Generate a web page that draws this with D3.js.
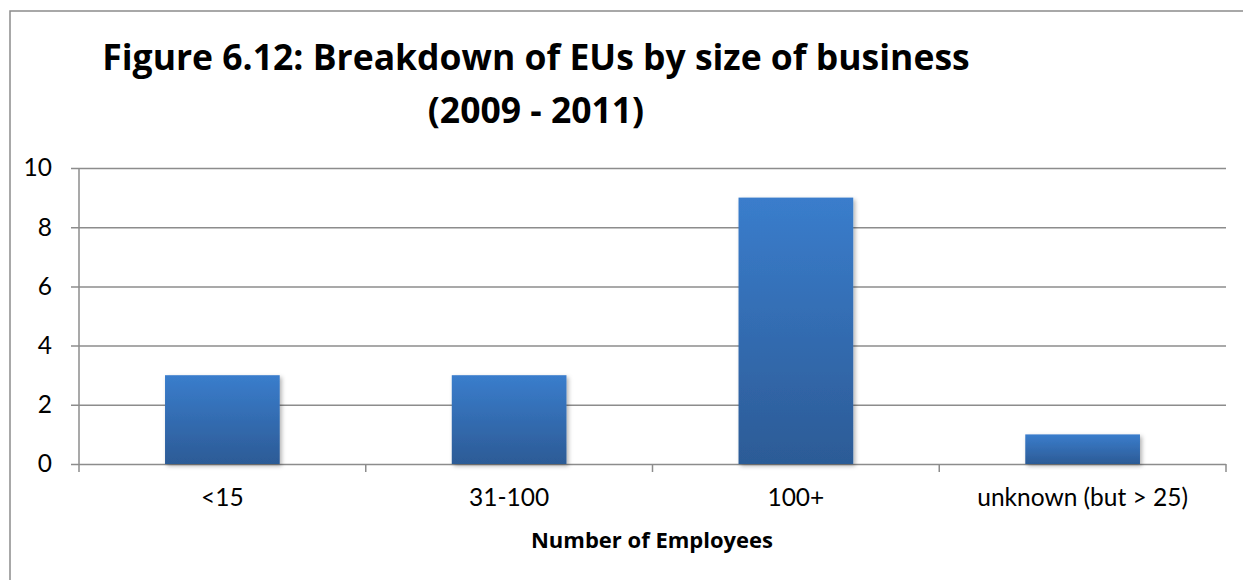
<!DOCTYPE html>
<html>
<head>
<meta charset="utf-8">
<script src="https://cdn.jsdelivr.net/npm/d3@7"></script>
<style>
  html, body { margin: 0; padding: 0; background: #fff; }
  svg { display: block; }
  text { font-family: Lato, "Open Sans", sans-serif; fill: #000; }
  .bold { font-family: "Open Sans", Lato, sans-serif; font-weight: bold; }
</style>
</head>
<body>
<script>
// Chart data
const categories = ["<15", "31-100", "100+", "unknown (but > 25)"];
const counts = [3, 3, 9, 1];
const yTicks = [0, 2, 4, 6, 8, 10];
const titleLines = ["Figure 6.12: Breakdown of EUs by size of business", "(2009 - 2011)"];
const xAxisTitle = "Number of Employees";

const W = 1243, H = 580;
const plot = { left: 79, right: 1226, top: 168, bottom: 464 };
const gridColor = "#8c8c8c";

const svg = d3.select("body").append("svg")
  .attr("width", W).attr("height", H);

const defs = svg.append("defs");
const grad = defs.append("linearGradient")
  .attr("id", "barFill").attr("x1", 0).attr("y1", 0).attr("x2", 0).attr("y2", 1);
grad.append("stop").attr("offset", "0%").attr("stop-color", "#3a7dcc");
grad.append("stop").attr("offset", "100%").attr("stop-color", "#2c5b96");

const shadow = defs.append("filter").attr("id", "barShadow")
  .attr("x", "-10%").attr("y", "-10%").attr("width", "130%").attr("height", "130%");
shadow.append("feDropShadow")
  .attr("dx", 2).attr("dy", 2).attr("stdDeviation", 2)
  .attr("flood-color", "#000").attr("flood-opacity", 0.3);

// Outer frame (only left and top edges fall inside the canvas)
svg.append("rect")
  .attr("x", 10).attr("y", 11).attr("width", W + 20).attr("height", H + 20)
  .attr("fill", "none").attr("stroke", gridColor).attr("stroke-width", 1.5);

// Scales
const x = d3.scaleBand()
  .domain(categories)
  .range([plot.left, plot.right])
  .paddingInner(0.6).paddingOuter(0.3);

const y = d3.scaleLinear()
  .domain([0, 10])
  .range([plot.bottom, plot.top]);

// Title
const title = svg.append("g").attr("class", "bold").attr("font-size", 35.5);
titleLines.forEach((t, i) => {
  title.append("text")
    .attr("class", "bold")
    .attr("x", 536).attr("y", 70 + i * 53)
    .attr("text-anchor", "middle")
    .text(t);
});

// Gridlines with left tick marks
const yAxis = d3.axisLeft(y)
  .tickValues(yTicks)
  .tickSize(-(plot.right - plot.left + 8))
  .tickFormat(d3.format("d"));

const gy = svg.append("g")
  .attr("transform", `translate(${plot.right},0)`)
  .call(yAxis);
gy.select(".domain").remove();
gy.selectAll(".tick line")
  .attr("x1", 0).attr("x2", -(plot.right - plot.left + 8))
  .attr("stroke", gridColor).attr("stroke-width", 1.5);
gy.selectAll(".tick text").remove();

// Y tick labels
svg.append("g").selectAll("text")
  .data(yTicks).join("text")
  .attr("x", 52).attr("y", d => y(d))
  .attr("dy", "0.34em")
  .attr("text-anchor", "end")
  .attr("font-size", 24.5)
  .text(d => d);

// Vertical axis line
svg.append("line")
  .attr("x1", plot.left).attr("x2", plot.left)
  .attr("y1", plot.top).attr("y2", plot.bottom + 8)
  .attr("stroke", gridColor).attr("stroke-width", 1.5);

// Category separators on x axis
const step = x.step();
const sepPositions = categories.map((c, i) => plot.left + (i + 1) * step);
svg.append("g").selectAll("line")
  .data(sepPositions).join("line")
  .attr("x1", d => d).attr("x2", d => d)
  .attr("y1", plot.bottom).attr("y2", plot.bottom + 8)
  .attr("stroke", gridColor).attr("stroke-width", 1.5);

// Bars
svg.append("g").selectAll("rect")
  .data(categories.map((c, i) => ({ c, v: counts[i] })))
  .join("rect")
  .attr("x", d => x(d.c))
  .attr("y", d => y(d.v))
  .attr("width", x.bandwidth())
  .attr("height", d => y(0) - y(d.v))
  .attr("fill", "url(#barFill)")
  .attr("filter", "url(#barShadow)");

// Category labels
svg.append("g").selectAll("text")
  .data(categories).join("text")
  .attr("x", d => x(d) + x.bandwidth() / 2)
  .attr("y", 506)
  .attr("text-anchor", "middle")
  .attr("font-size", 24.5)
  .text(d => d);

// X axis title
svg.append("text")
  .attr("class", "bold")
  .attr("x", 652).attr("y", 548)
  .attr("text-anchor", "middle")
  .attr("font-size", 22)
  .text(xAxisTitle);
</script>
</body>
</html>
